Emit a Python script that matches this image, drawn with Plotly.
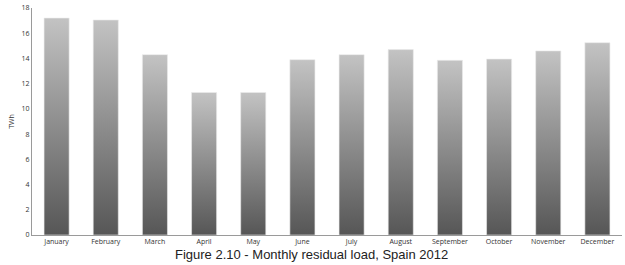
import plotly.graph_objects as go

months = ["January", "February", "March", "April", "May", "June", "July",
          "August", "September", "October", "November", "December"]
twh = [17.2, 17.05, 14.3, 11.3, 11.3, 13.9, 14.3, 14.7, 13.85, 13.95, 14.6, 15.25]
y_ticks = [0, 2, 4, 6, 8, 10, 12, 14, 16, 18]

half = 0.255
fig = go.Figure()
for i, v in enumerate(twh):
    fig.add_trace(go.Scatter(
        x=[i - half, i + half, i + half, i - half, i - half],
        y=[0, 0, v, v, 0],
        mode="lines", fill="toself",
        line=dict(width=0.6, color="rgba(235,235,235,1)"),
        fillgradient=dict(type="vertical",
                          colorscale=[[0, "#565656"], [1, "#c3c3c3"]]),
        hoverinfo="skip", showlegend=False,
    ))

tickfont = dict(family="Open Sans, Liberation Sans, sans-serif", size=7, color="#333333")
fig.update_layout(
    width=625, height=265,
    margin=dict(l=32, r=3, t=5, b=30),
    plot_bgcolor="white", paper_bgcolor="white",
    xaxis=dict(range=[-0.5, 11.5], tickvals=list(range(len(months))), ticktext=months,
               showgrid=False, zeroline=False, showline=True, linecolor="#9a9a9a",
               linewidth=1, ticks="", tickfont=tickfont),
    yaxis=dict(range=[0, 18], tickvals=y_ticks, showgrid=False, zeroline=False,
               showline=True, linecolor="#9a9a9a", linewidth=1, ticks="",
               tickfont=tickfont,
               title=dict(text="TWh", font=dict(family="Open Sans, sans-serif", size=7, color="#333333"),
                          standoff=6)),
    annotations=[dict(text="Figure 2.10 - Monthly residual load, Spain 2012",
                      x=(311 - 32) / 590, y=(235 - 263) / 230,
                      xref="paper", yref="paper", showarrow=False, borderpad=0,
                      font=dict(family="Liberation Sans, Arial, sans-serif", size=13, color="#222222"),
                      xanchor="center", yanchor="bottom")],
)
fig.write_html("out.html")
